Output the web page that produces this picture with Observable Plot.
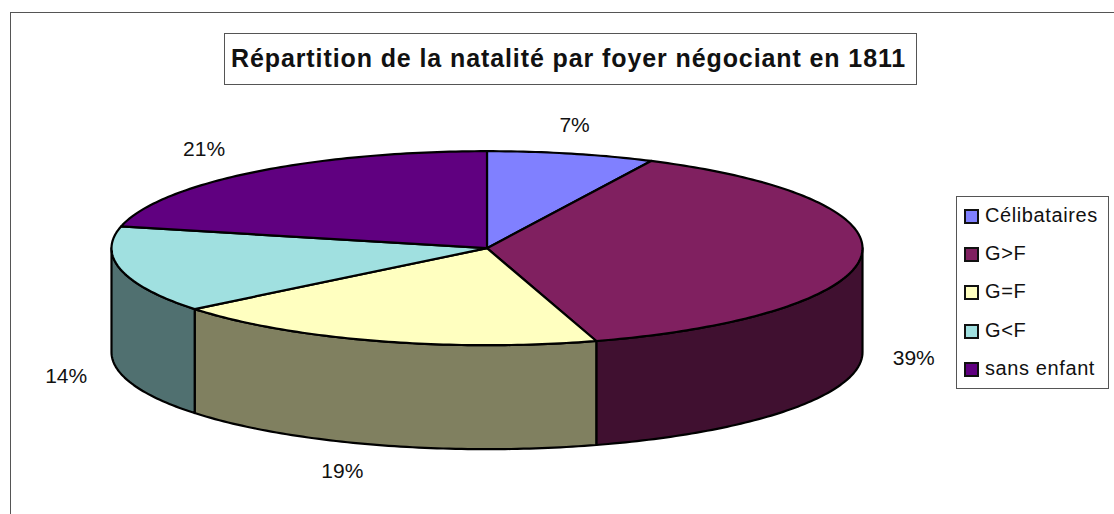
<!DOCTYPE html>
<html lang="fr">
<head>
<meta charset="utf-8">
<script src="https://cdn.jsdelivr.net/npm/d3@7"></script>
<script src="https://cdn.jsdelivr.net/npm/@observablehq/plot@0.6"></script>
<style>
html,body{margin:0;padding:0;background:#fff;width:1114px;height:514px;overflow:hidden;font-family:"Liberation Sans",Arial,sans-serif;color:#111}
#wrap{position:relative;width:1114px;height:514px}
#plot svg{display:block;position:absolute;left:0;top:0;background:transparent}
#frame{position:absolute;left:10px;top:12px;width:1120px;height:520px;border:1px solid #555;box-sizing:border-box}
#title{position:absolute;left:224px;top:33px;width:693px;height:52px;box-sizing:border-box;border:1px solid #555;background:#fff;font-weight:bold;font-size:25px;letter-spacing:.9px;line-height:48px;padding-left:6px;text-align:left;white-space:nowrap;margin:0}
#legend{position:absolute;left:956px;top:196px;width:153px;height:193px;box-sizing:border-box;border:1px solid #555;background:#fff}
.it{position:absolute;left:7px;height:24px;font-size:20px;letter-spacing:.6px;line-height:24px;white-space:nowrap}
.sw{position:absolute;left:0;top:6px;width:15px;height:15px;box-sizing:border-box;border:2px solid #111}
.it span{position:absolute;left:21px;top:0}
</style>
</head>
<body>
<div id="wrap">
  <div id="frame"></div>
  <div id="plot"></div>
  <h1 id="title"></h1>
  <div id="legend"></div>
</div>
<script>
const chartTitle = "Répartition de la natalité par foyer négociant en 1811";
const slices = ["Célibataires", "G>F", "G=F", "G<F", "sans enfant"];
const shares = [7.2, 38.1, 18.9, 14.4, 21.4];
// Labels as printed on the chart
const labels = ["7%", "39%", "19%", "14%", "21%"];
const topColors = ["#8080ff", "#802060", "#ffffc0", "#a0e0e0", "#600080"];
const sideColors = ["#404080", "#401030", "#808060", "#507070", "#300040"];
const labelReach = [1.04, 1.14, 1.31, 1.15, 1.21];
const labelReachY = [1.3, 1.3, 1.33, 1.3, 1.3];

const depth = 1.072;         // wall height, in units of the vertical radius
const labelDrop = 1.03;
const tau = 2 * Math.PI;
const pt = (a, drop = 0, kx = 1, ky = 1) => ({x: kx * Math.sin(a), y: ky * Math.cos(a) - drop});
const arc = (a0, a1) => d3.range(0, 1.0001, 1 / Math.max(2, Math.ceil((a1 - a0) * 60))).map((t) => a0 + (a1 - a0) * t);

let cum = 0;
const pie = slices.map((slice, i) => {
  const a0 = cum / 100 * tau;
  cum += shares[i];
  const a1 = cum / 100 * tau;
  return {slice, i, a0, a1, mid: (a0 + a1) / 2};
});

const tops = pie.flatMap(({slice, a0, a1}) => {
  const rim = arc(a0, a1).map((a) => pt(a));
  return [{x: 0, y: 0}, ...rim, {x: 0, y: 0}].map((p) => ({...p, slice}));
});

const walls = pie.flatMap(({slice, a0, a1}) => {
  const s = Math.max(a0, tau / 4), e = Math.min(a1, 3 * tau / 4);
  if (e <= s) return [];
  const as = arc(s, e);
  const ring = [...as.map((a) => pt(a)), ...as.slice().reverse().map((a) => pt(a, depth))];
  return [...ring, ring[0]].map((p) => ({...p, slice: slice + " (côté)"}));
});

const labelRows = pie.map(({i, mid}) => {
  const front = Math.cos(mid) < 0;
  return {label: labels[i], ...pt(mid, front ? labelDrop : 0, labelReach[i], labelReachY[i])};
});

const chart = Plot.plot({
  width: 1114,
  height: 514,
  margin: 0,
  style: {background: "transparent"},
  x: {domain: [-1, 1], range: [111, 862], axis: null},
  y: {domain: [-1, 1], range: [344.7, 150.7], axis: null},
  color: {
    domain: [...slices, ...slices.map((s) => s + " (côté)")],
    range: [...topColors, ...sideColors]
  },
  marks: [
    Plot.line(walls, {x: "x", y: "y", z: "slice", fill: "slice", stroke: "#000", strokeWidth: 2.2, strokeLinejoin: "round", curve: "linear"}),
    Plot.line(tops, {x: "x", y: "y", z: "slice", fill: "slice", stroke: "#000", strokeWidth: 2.2, strokeLinejoin: "round", curve: "linear"}),
    Plot.text(labelRows, {x: "x", y: "y", text: "label", fontSize: 21, fontFamily: "Liberation Sans, Arial, sans-serif", fill: "#111"})
  ]
});
document.getElementById("plot").appendChild(chart);
document.getElementById("title").textContent = chartTitle;

const legend = document.getElementById("legend");
slices.forEach((s, i) => {
  const it = document.createElement("div");
  it.className = "it";
  it.style.top = (6 + i * 38.2) + "px";
  const sw = document.createElement("div");
  sw.className = "sw";
  sw.style.background = topColors[i];
  const tx = document.createElement("span");
  tx.textContent = s;
  it.append(sw, tx);
  legend.appendChild(it);
});
</script>
</body>
</html>
